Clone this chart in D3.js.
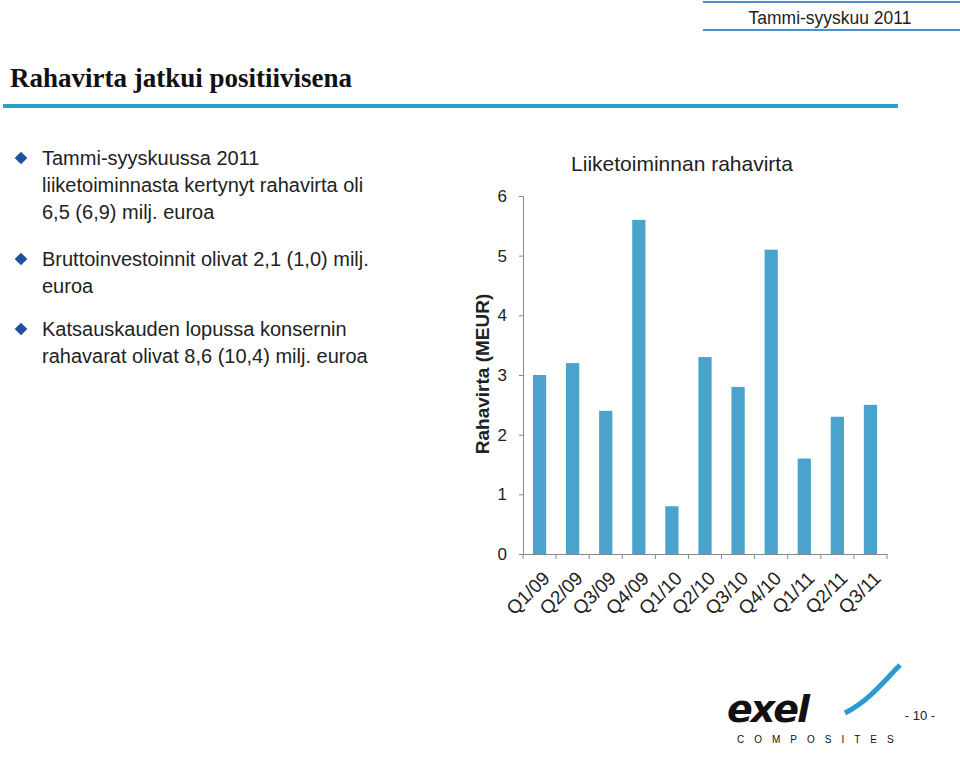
<!DOCTYPE html>
<html>
<head>
<meta charset="utf-8">
<script src="https://cdn.jsdelivr.net/npm/d3@7"></script>
<style>
body { margin: 0; background: #fff; }
</style>
</head>
<body>
<div id="chart"></div>
<script>
// Data
const quarters = ["Q1/09", "Q2/09", "Q3/09", "Q4/09", "Q1/10", "Q2/10", "Q3/10", "Q4/10", "Q1/11", "Q2/11", "Q3/11"];
const cashFlow = [3.0, 3.2, 2.4, 5.6, 0.8, 3.3, 2.8, 5.1, 1.6, 2.3, 2.5];
const yTicks = [0, 1, 2, 3, 4, 5, 6];
const bullets = [
    ["Tammi-syyskuussa 2011", "liiketoiminnasta kertynyt rahavirta oli", "6,5 (6,9) milj. euroa"],
    ["Bruttoinvestoinnit olivat 2,1 (1,0) milj.", "euroa"],
    ["Katsauskauden lopussa konsernin", "rahavarat olivat 8,6 (10,4) milj. euroa"]
];

const svg = d3.select("#chart").append("svg")
    .attr("width", 960)
    .attr("height", 761);

// Header
svg.append("line").attr("x1", 703).attr("x2", 960).attr("y1", 2).attr("y2", 2)
    .attr("stroke", "#4a90d0").attr("stroke-width", 2);
svg.append("line").attr("x1", 703).attr("x2", 960).attr("y1", 30).attr("y2", 30)
    .attr("stroke", "#4a90d0").attr("stroke-width", 2);
svg.append("text").attr("x", 830).attr("y", 24).attr("text-anchor", "middle")
    .style("font-family", "Liberation Sans, Arial").style("font-size", "19px").attr("fill", "#222")
    .attr("transform", "translate(830,0) scale(0.92,1) translate(-830,0)")
    .text("Tammi-syyskuu 2011");

svg.append("text").attr("x", 10).attr("y", 87)
    .style("font-family", "Liberation Serif, Times New Roman").style("font-size", "27px").style("font-weight", "bold")
    .attr("fill", "#111")
    .text("Rahavirta jatkui positiivisena");
svg.append("line").attr("x1", 3).attr("x2", 898).attr("y1", 106).attr("y2", 106)
    .attr("stroke", "#2aa0cc").attr("stroke-width", 4);

// Bullets
let by = [165, 266, 336];
bullets.forEach((lines, i) => {
    svg.append("path")
        .attr("d", d3.symbol().type(d3.symbolSquare).size(80)())
        .attr("transform", "translate(21," + (by[i] - 7) + ") rotate(45)")
        .attr("fill", "#1f4fa0");
    lines.forEach((t, j) => {
        svg.append("text").attr("x", 42).attr("y", by[i] + j * 27)
            .style("font-family", "Liberation Sans, Arial").style("font-size", "20px").attr("fill", "#222")
            .text(t);
    });
});

// Chart
const margin = {left: 523, top: 196, width: 364, height: 358};
const g = svg.append("g").attr("transform", "translate(" + margin.left + "," + margin.top + ")");

const x = d3.scaleBand().domain(quarters).range([0, margin.width]).paddingInner(0.6).paddingOuter(0.3);
const y = d3.scaleLinear().domain([0, 6]).range([margin.height, 0]);

g.selectAll("rect").data(cashFlow).enter().append("rect")
    .attr("x", (d, i) => x(quarters[i]))
    .attr("width", x.bandwidth())
    .attr("y", d => y(d))
    .attr("height", d => y(0) - y(d))
    .attr("fill", "#4aa3cc");

const yAxis = g.append("g").call(d3.axisLeft(y).tickValues(yTicks).tickSize(4).tickFormat(d3.format("d")));
const step = margin.width / quarters.length;
const xAxis = g.append("g").attr("transform", "translate(0," + margin.height + ")")
    .call(d3.axisBottom(x).tickSize(0).tickFormat(""));
xAxis.selectAll(".tick").remove();
// category boundary ticks
g.selectAll(".bt").data(d3.range(quarters.length + 1)).enter().append("line")
    .attr("x1", d => d * step).attr("x2", d => d * step)
    .attr("y1", margin.height).attr("y2", margin.height + 5)
    .attr("stroke", "#888");
[yAxis, xAxis].forEach(a => {
    a.select(".domain").attr("stroke", "#888");
    a.selectAll("line").attr("stroke", "#888");
});
yAxis.selectAll("text").attr("x", -16)
    .style("font-family", "Liberation Sans, Arial").style("font-size", "17px").attr("fill", "#222");

g.selectAll(".xl").data(quarters).enter().append("text")
    .attr("transform", d => "translate(" + (x(d) + x.bandwidth() / 2 + 2) + "," + (margin.height + 16) + ") rotate(-45)")
    .attr("text-anchor", "end")
    .attr("dy", "0.7em")
    .style("font-family", "Liberation Sans, Arial").style("font-size", "19px").attr("fill", "#222")
    .text(d => d);

svg.append("text").attr("x", 682).attr("y", 171).attr("text-anchor", "middle")
    .style("font-family", "Liberation Sans, Arial").style("font-size", "21px").attr("fill", "#222")
    .text("Liiketoiminnan rahavirta");
svg.append("text").attr("transform", "translate(489,374) rotate(-90)").attr("text-anchor", "middle")
    .style("font-family", "Liberation Sans, Arial").style("font-size", "19px").style("font-weight", "bold").attr("fill", "#222")
    .text("Rahavirta (MEUR)");

// Logo
svg.append("text").attr("x", 727).attr("y", 722)
    .style("font-family", "DejaVu Sans, Arial").style("font-size", "38px").style("font-weight", "bold").style("font-style", "italic")
    .attr("fill", "#111").attr("letter-spacing", "-2")
    .text("exel");
svg.append("path").attr("d", "M845,713 C870,700 885,680 900,665")
    .attr("fill", "none").attr("stroke", "#2a9ad0").attr("stroke-width", 5);
svg.append("text").attr("x", 737).attr("y", 743)
    .style("font-family", "Liberation Sans, Arial").style("font-size", "10px").attr("fill", "#111")
    .attr("letter-spacing", "10").text("COMPOSITES");
svg.append("text").attr("x", 920).attr("y", 720).attr("text-anchor", "middle")
    .style("font-family", "Liberation Sans, Arial").style("font-size", "13px").attr("fill", "#222")
    .text("- 10 -");
</script>
</body>
</html>
